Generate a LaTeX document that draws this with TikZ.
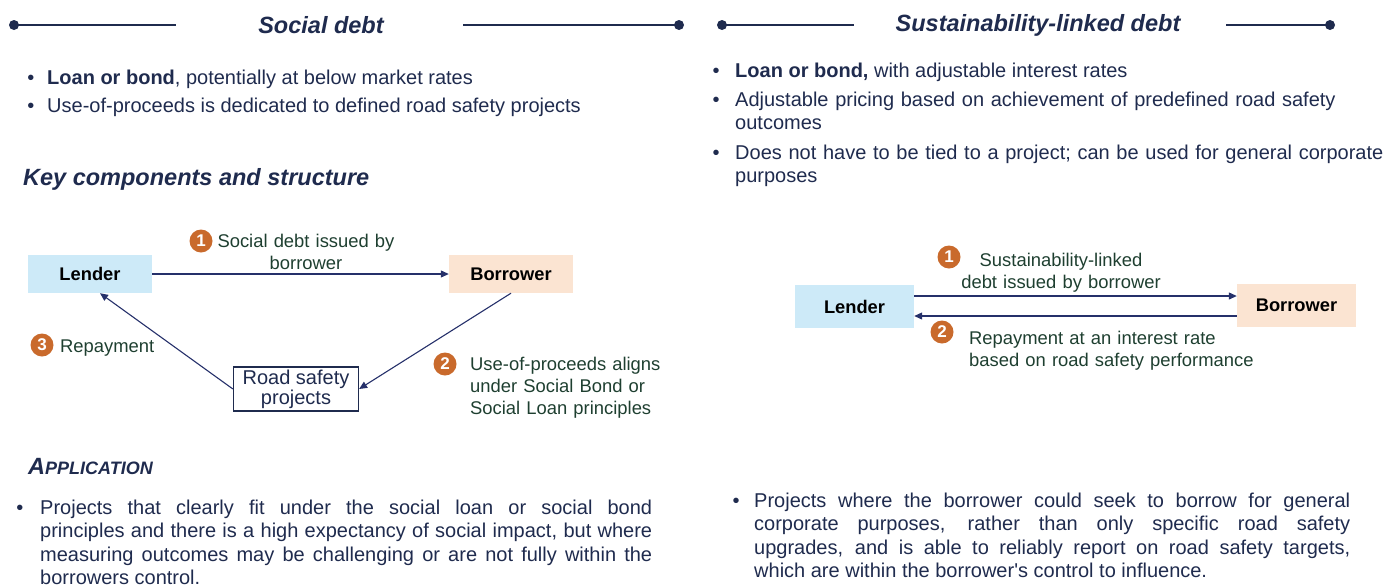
\documentclass[tikz,border=0pt]{standalone}
\usepackage{fontspec}
\setmainfont{Liberation Sans}[Ligatures=TeXOff]
\usetikzlibrary{arrows.meta,positioning}
\definecolor{navy}{HTML}{1F2B4E}
\definecolor{lblgreen}{HTML}{1E3F30}
\definecolor{badgeor}{HTML}{C96A2C}
\definecolor{lendblue}{HTML}{CDEAF8}
\definecolor{borrpeach}{HTML}{FBE4D2}
\definecolor{arrnavy}{HTML}{25306A}
\tikzset{
  party/.style={minimum width=124pt,minimum height=38pt,inner sep=0pt,font=\fontsize{18.3}{22}\selectfont\bfseries},
  badge/.style={circle,fill=badgeor,text=white,minimum size=23pt,inner sep=0pt,font=\fontsize{17}{17}\selectfont\bfseries},
  flow/.style={draw=arrnavy,line width=1.1pt,-{Triangle[length=8pt,width=7pt]}},
  lbl/.style={text=lblgreen,inner sep=0pt,font=\fontsize{18.4}{22}\selectfont},
  body/.style={text=navy,inner sep=0pt,font=\fontsize{20}{23.5}\selectfont},
  headline/.style={draw=navy,line width=2.8pt},
  headdot/.style={fill=navy},
  headtitle/.style={text=navy,inner sep=0pt,font=\fontsize{23.5}{28}\selectfont\bfseries\itshape}
}
\begin{document}
\begin{tikzpicture}[x=1pt,y=-1pt]
\useasboundingbox (0,0) rectangle (1386,584);

% headers
\node[headtitle] (titleL) at (321,25) {Social debt};
\coordinate (hl1) at (14,25);
\coordinate (hl2) at (176,25);
\coordinate (hl3) at (463,25);
\coordinate (hl4) at (679,25);
\draw[headline] (hl1) -- (hl2);
\draw[headline] (hl3) -- (hl4);
\fill[headdot] (hl1) circle (5);
\fill[headdot] (hl4) circle (5);

\node[headtitle] (titleR) at (1038,25) {Sustainability-linked debt};
\coordinate (hr1) at (722,25);
\coordinate (hr2) at (854,25);
\coordinate (hr3) at (1226,25);
\coordinate (hr4) at (1330,25);
\draw[headline] (hr1) -- (hr2);
\draw[headline] (hr3) -- (hr4);
\fill[headdot] (hr1) circle (5);
\fill[headdot] (hr4) circle (5);

% left bullets
\node[body,anchor=base] (bl1) at (31,84) {•};
\node[body,anchor=base west] (tl1) at (47,84) {\textbf{Loan or bond}, potentially at below market rates};
\node[body,anchor=base] (bl2) at (31,112) {•};
\node[body,anchor=base west] (tl2) at (47,112) {Use-of-proceeds is dedicated to defined road safety projects};

\node[headtitle,anchor=base west] (keyhead) at (23,185) {Key components and structure};

% right bullets
\node[body,anchor=base] (br1) at (716,77) {•};
\node[body,anchor=base west] (tr1) at (735,77) {\textbf{Loan or bond,} with adjustable interest rates};
\node[body,anchor=base] (br2) at (716,106) {•};
\node[body,anchor=base west,text width=700pt,align=left] (tr2) at (735,106) {Adjustable pricing based on achievement of predefined road safety\\outcomes};
\node[body,anchor=base] (br3) at (716,159) {•};
\node[body,anchor=base west,text width=700pt,align=left] (tr3) at (735,159) {Does not have to be tied to a project; can be used for general corporate\\purposes};

% social debt diagram
\node[party,fill=lendblue] (lender) at (90,274) {Lender};
\node[party,fill=borrpeach] (borrower) at (511,274) {Borrower};
\node[draw=navy,line width=1.2pt,minimum width=125pt,minimum height=44pt,inner sep=0pt,align=center,text=navy,font=\fontsize{20}{20}\selectfont] (projects) at (296,389) {Road safety\\projects};

\draw[flow] (lender) -- (borrower);
\draw[flow] (borrower.south) -- (projects.east);
\draw[flow] (projects.west) -- ([xshift=10pt]lender.south);

\node[badge] (n1) at (201,241) {1};
\node[lbl,anchor=base,text width=190pt,align=center] (l1) at (306,247) {Social debt issued by\\borrower};
\node[badge] (n3) at (42,345) {3};
\node[lbl,anchor=base west] (l3) at (60,352) {Repayment};
\node[badge] (n2) at (445,364) {2};
\node[lbl,anchor=base west,text width=220pt,align=left] (l2) at (470,370) {Use-of-proceeds aligns\\under Social Bond or\\Social Loan principles};

% sustainability-linked diagram
\node[party,fill=lendblue,minimum width=119pt,minimum height=43pt] (lender2) at (854.5,306.5) {Lender};
\node[party,fill=borrpeach,minimum width=119pt,minimum height=43pt] (borrower2) at (1296.5,305.5) {Borrower};

\draw[flow] ([yshift=10.5pt]lender2.east) -- ([yshift=9.5pt]borrower2.west);
\draw[flow] ([yshift=-10.5pt]borrower2.west) -- ([yshift=-9.5pt]lender2.east);

\node[badge] (m1) at (949,257) {1};
\node[lbl,anchor=base,text width=260pt,align=center] (k1) at (1061,266) {Sustainability-linked\\debt issued by borrower};
\node[badge] (m2) at (942,332) {2};
\node[lbl,anchor=base west,text width=320pt,align=left] (k2) at (969,344) {Repayment at an interest rate\\based on road safety performance};

% application
\node[text=navy,inner sep=0pt,anchor=base west] (apphead) at (28,474)
  {\bfseries\itshape{\fontsize{23.5}{28}\selectfont A}{\fontsize{18}{22}\selectfont PPLICATION}};

\node[body,anchor=base] (ba1) at (20,514) {•};
\node[body,anchor=base west,text width=612pt,align=justify] (ta1) at (40,514)
  {Projects that clearly fit under the social loan or social bond\linebreak
   principles and there is a high expectancy of social impact, but where\linebreak
   measuring outcomes may be challenging or are not fully within the\linebreak
   borrowers control.};

\node[body,anchor=base] (ba2) at (736,507) {•};
\node[body,anchor=base west,text width=596pt,align=justify] (ta2) at (754,507)
  {Projects where the borrower could seek to borrow for general\linebreak
   corporate purposes, rather than only specific road safety\linebreak
   upgrades, and is able to reliably report on road safety targets,\linebreak
   which are within the borrower's control to influence.};
\end{tikzpicture}
\end{document}
